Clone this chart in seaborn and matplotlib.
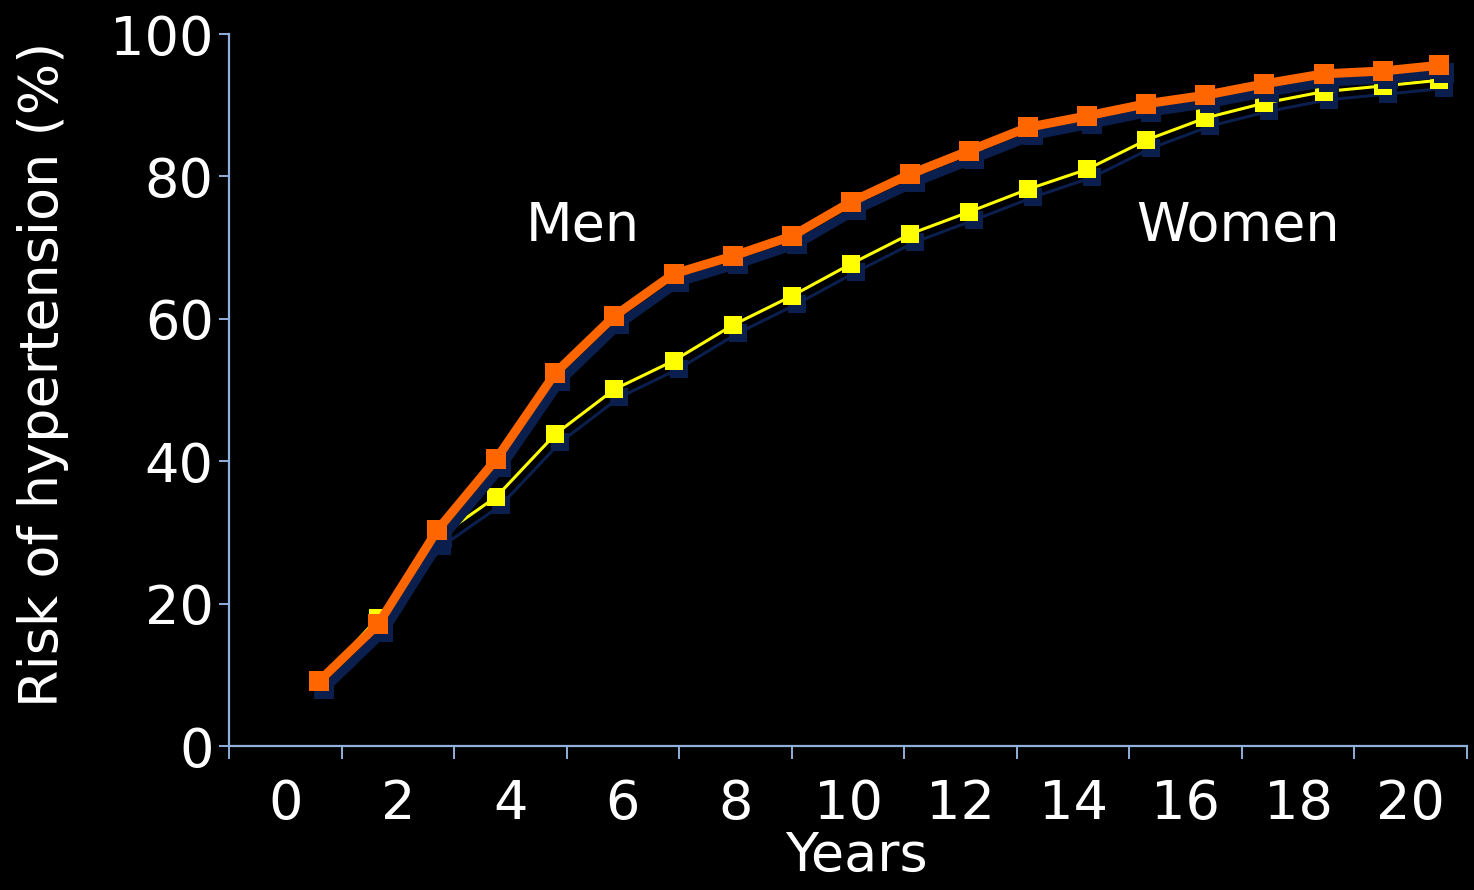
import matplotlib
matplotlib.use("Agg")
import matplotlib.pyplot as plt
import matplotlib.transforms as mtransforms
import seaborn as sns
import pandas as pd

# ---- data ----
years = [0.6, 1.65, 2.7, 3.75, 4.8, 5.85, 6.9, 7.95, 9.0, 10.05,
         11.1, 12.15, 13.2, 14.25, 15.3, 16.35, 17.4, 18.45, 19.5, 20.5]
men = [9.1, 17.1, 30.3, 40.3, 52.4, 60.4, 66.3, 68.8, 71.6, 76.4,
       80.3, 83.6, 86.9, 88.5, 90.2, 91.4, 93.0, 94.4, 94.8, 95.6]
women = [9.0, 18.0, 29.2, 35.0, 43.8, 50.1, 54.1, 59.1, 63.2, 67.7,
         71.9, 75.0, 78.2, 81.0, 85.1, 88.2, 90.3, 91.9, 92.7, 93.5]
x_labels = ["0", "2", "4", "6", "8", "10", "12", "14", "16", "18", "20"]
y_ticks = [0, 20, 40, 60, 80, 100]

df_men = pd.DataFrame({"Years": years, "Risk": men})
df_women = pd.DataFrame({"Years": years, "Risk": women})

sns.set_theme(style="dark")
plt.rcParams["font.family"] = ["DejaVu Sans"]

BG = "#000000"
AXC = "#8fb0dc"
SHADOW = "#0b1f4f"
ORANGE = "#ff6600"
YELLOW = "#ffff00"

fig = plt.figure(figsize=(14.74, 8.9), dpi=100, facecolor=BG)
ax = fig.add_axes([229 / 1474, 1 - 746 / 890, (1467 - 229) / 1474, (746 - 34) / 890])
ax.set_facecolor(BG)
ax.grid(False)

shadow_tr = mtransforms.offset_copy(ax.transData, fig=fig, x=3.6, y=-5.8, units="points")

# women shadow + line
sns.lineplot(data=df_women, x="Years", y="Risk", ax=ax, color=SHADOW, lw=2.2,
             marker="s", markersize=13, markeredgewidth=0, transform=shadow_tr,
             zorder=2)
sns.lineplot(data=df_women, x="Years", y="Risk", ax=ax, color=YELLOW, lw=2.2,
             marker="s", markersize=13, markeredgewidth=0, zorder=3)
# men shadow + line
sns.lineplot(data=df_men, x="Years", y="Risk", ax=ax, color=SHADOW, lw=6.5,
             marker="s", markersize=15, markeredgewidth=0, transform=shadow_tr,
             zorder=4)
sns.lineplot(data=df_men, x="Years", y="Risk", ax=ax, color=ORANGE, lw=6.5,
             marker="s", markersize=15, markeredgewidth=0, zorder=5)

ax.set_xlim(-1, 21)
ax.set_ylim(0, 100)

# axis styling
for side in ["top", "right"]:
    ax.spines[side].set_visible(False)
for side in ["left", "bottom"]:
    ax.spines[side].set_visible(True)
    ax.spines[side].set_color(AXC)
    ax.spines[side].set_linewidth(1.6)

ax.set_yticks(y_ticks)
ax.set_yticklabels([str(v) for v in y_ticks])
ax.tick_params(axis="y", which="major", direction="out", length=7, width=1.4,
               color=AXC, labelcolor="white", labelsize=39, pad=4, left=True)

band_edges = [-1 + 2 * i for i in range(12)]
label_pos = [2 * i for i in range(len(x_labels))]
ax.set_xticks(band_edges)
ax.set_xticklabels([""] * len(band_edges))
ax.set_xticks(label_pos, minor=True)
ax.set_xticklabels(x_labels, minor=True)
ax.tick_params(axis="x", which="major", direction="out", length=9.5, width=1.4,
               color=AXC, bottom=True)
ax.tick_params(axis="x", which="minor", length=0, labelcolor="white",
               labelsize=39, pad=23, bottom=True)

ax.set_xlabel("Years", color="white", fontsize=39, labelpad=0)
ax.xaxis.label.set_x(0.5065)
ax.set_ylabel("Risk of hypertension (%)", color="white", fontsize=39, labelpad=30)
ax.yaxis.label.set_y(0.522)

ax.text(5.28, 73, "Men", color="white", fontsize=39, ha="center", va="center")
ax.text(16.93, 73, "Women", color="white", fontsize=39, ha="center", va="center")

fig.savefig("out.png", dpi=100, facecolor=BG)
